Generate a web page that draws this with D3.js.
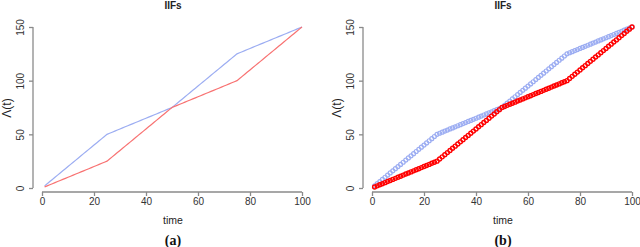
<!DOCTYPE html>
<html>
<head>
<meta charset="utf-8">
<script src="https://cdn.jsdelivr.net/npm/d3@7"></script>
<style>
  body { margin: 0; background: #fff; }
  svg { display: block; font-family: "Liberation Sans", Arial, sans-serif; }
</style>
</head>
<body>
<div id="chart-area"></div>
<script>
// values
var time = [1,2,3,4,5,6,7,8,9,10,11,12,13,14,15,16,17,18,19,20,21,22,23,24,25,
  26,27,28,29,30,31,32,33,34,35,36,37,38,39,40,41,42,43,44,45,46,47,48,49,50,
  51,52,53,54,55,56,57,58,59,60,61,62,63,64,65,66,67,68,69,70,71,72,73,74,75,
  76,77,78,79,80,81,82,83,84,85,86,87,88,89,90,91,92,93,94,95,96,97,98,99,100];
var blueVals = [2,4,6,8,10,12,14,16,18,20,22,24,26,28,30,32,34,36,38,40,42,44,46,48,50,
  51,52,53,54,55,56,57,58,59,60,61,62,63,64,65,66,67,68,69,70,71,72,73,74,75,
  77,79,81,83,85,87,89,91,93,95,97,99,101,103,105,107,109,111,113,115,117,119,121,123,125,
  126,127,128,129,130,131,132,133,134,135,136,137,138,139,140,141,142,143,144,145,146,147,148,149,150];
var redVals = [1,2,3,4,5,6,7,8,9,10,11,12,13,14,15,16,17,18,19,20,21,22,23,24,25,
  27,29,31,33,35,37,39,41,43,45,47,49,51,53,55,57,59,61,63,65,67,69,71,73,75,
  76,77,78,79,80,81,82,83,84,85,86,87,88,89,90,91,92,93,94,95,96,97,98,99,100,
  102,104,106,108,110,112,114,116,118,120,122,124,126,128,130,132,134,136,138,140,142,144,146,148,150];
var xTicks = [0, 20, 40, 60, 80, 100];
var yTicks = [0, 50, 100, 150];
var panels = [
  {left: 0, label: "(a)", points: false},
  {left: 330, label: "(b)", points: true}
];

var width = 640, height = 247;
var axisGrey = "#8a8a8a";
var blue = "#9cadf2";

var svg = d3.select("#chart-area").append("svg")
  .attr("width", width)
  .attr("height", height);

panels.forEach(function(p) {
  var g = svg.append("g").attr("transform", "translate(" + p.left + ",0)");

  var xScale = d3.scaleLinear().domain([0, 100]).range([42, 302]);
  var yScale = d3.scaleLinear().domain([0, 150]).range([188, 27]);

  // x axis
  var xAxis = g.append("g").attr("transform", "translate(0,192)")
    .call(d3.axisBottom(xScale).tickValues(xTicks).tickSize(4).tickPadding(2));
  xAxis.select(".domain").attr("stroke", axisGrey).attr("stroke-width", 1.3).attr("d", "M42,0H302");
  xAxis.selectAll(".tick line").attr("stroke", axisGrey).attr("stroke-width", 1.3);
  xAxis.selectAll(".tick text").attr("font-size", "10px").attr("fill", "#333")
    .attr("font-family", "Liberation Sans, Arial, sans-serif");

  // y axis
  var yAxis = g.append("g").attr("transform", "translate(33,0)")
    .call(d3.axisLeft(yScale).tickValues(yTicks).tickSize(4));
  yAxis.select(".domain").attr("stroke", axisGrey).attr("stroke-width", 1.3).attr("d", "M0,188V27");
  yAxis.selectAll(".tick line").attr("stroke", axisGrey).attr("stroke-width", 1.3);
  yAxis.selectAll(".tick text")
    .attr("font-size", "10px").attr("fill", "#333")
    .attr("font-family", "Liberation Sans, Arial, sans-serif")
    .attr("x", null).attr("dy", null)
    .attr("text-anchor", "middle")
    .attr("transform", "translate(-9,0) rotate(-90)")
    .attr("y", 0);

  // titles
  g.append("text").attr("x", 173).attr("y", 9)
    .attr("text-anchor", "middle").attr("font-size", "10px").attr("font-weight", "bold")
    .attr("fill", "#222").text("IIFs");
  g.append("text").attr("x", 173).attr("y", 224)
    .attr("text-anchor", "middle").attr("font-size", "10.5px").attr("fill", "#222").text("time");
  g.append("text").attr("transform", "translate(11,108) rotate(-90)")
    .attr("text-anchor", "middle").attr("font-size", "12px").attr("fill", "#222").text("\u039b(t)");
  g.append("text").attr("x", 173).attr("y", 245)
    .attr("text-anchor", "middle").attr("font-size", "14px").attr("font-weight", "bold")
    .attr("font-family", "Liberation Serif, Times New Roman, serif")
    .attr("fill", "#111").text(p.label);

  var blueData = time.map(function(t, i) { return [t, blueVals[i]]; });
  var redData = time.map(function(t, i) { return [t, redVals[i]]; });

  var line = d3.line()
    .x(function(d) { return xScale(d[0]); })
    .y(function(d) { return yScale(d[1]); });

  if (!p.points) {
    g.append("path").datum(blueData).attr("d", line)
      .attr("fill", "none").attr("stroke", blue).attr("stroke-width", 1.2);
    g.append("path").datum(redData).attr("d", line)
      .attr("fill", "none").attr("stroke", "#f87272").attr("stroke-width", 1.2);
  } else {
    g.append("g").selectAll("circle").data(blueData).enter().append("circle")
      .attr("cx", function(d) { return xScale(d[0]); })
      .attr("cy", function(d) { return yScale(d[1]); })
      .attr("r", 2)
      .attr("fill", "none").attr("stroke", blue).attr("stroke-width", 1.2);
    g.append("g").selectAll("circle").data(redData).enter().append("circle")
      .attr("cx", function(d) { return xScale(d[0]); })
      .attr("cy", function(d) { return yScale(d[1]); })
      .attr("r", 2)
      .attr("fill", "none").attr("stroke", "#ff0000").attr("stroke-width", 1.4);
  }
});
</script>
</body>
</html>
